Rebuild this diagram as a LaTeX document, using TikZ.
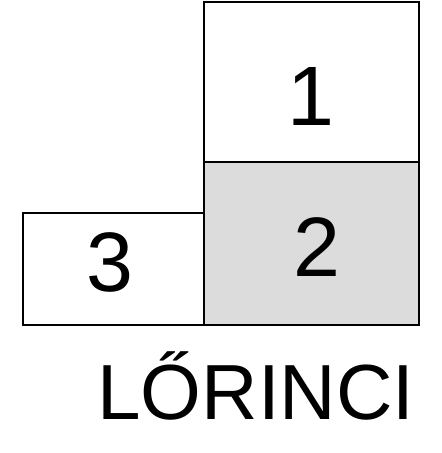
\documentclass[tikz,border=0pt]{standalone}
\usepackage{fontspec}
\setmainfont{Liberation Sans}
\usetikzlibrary{positioning}
\definecolor{panelgray}{HTML}{DCDCDC}

\begin{document}
\begin{tikzpicture}[x=0.02cm, y=-0.02cm,
  box/.style={rectangle, draw, line width=1.2pt, inner sep=0pt, anchor=north west},
  num/.style={anchor=base, inner sep=0pt, font=\fontsize{48}{48}\selectfont},
  placelbl/.style={anchor=base, inner sep=0pt, font=\fontsize{44.5}{44.5}\selectfont}
]
\useasboundingbox (0,0) rectangle (442,453);

% ===== Boxes =====
\node[box, minimum width=4.3cm, minimum height=3.2cm] (b1) at (203,1) {};
\node[box, fill=panelgray, minimum width=4.3cm, minimum height=3.26cm] (b2) at (203,161) {};
\node[box, minimum width=3.62cm, minimum height=2.24cm] (b3) at (22,212) {};

% ===== Numbers =====
\node[num] (n1) at (311,125) {1};
\node[num] (n2) at (317,276) {2};
\node[num] (n3) at (110,291) {3};

% ===== Label =====
\node[placelbl] (lbl) at (256,419) {LŐRINCI};

\end{tikzpicture}
\end{document}
